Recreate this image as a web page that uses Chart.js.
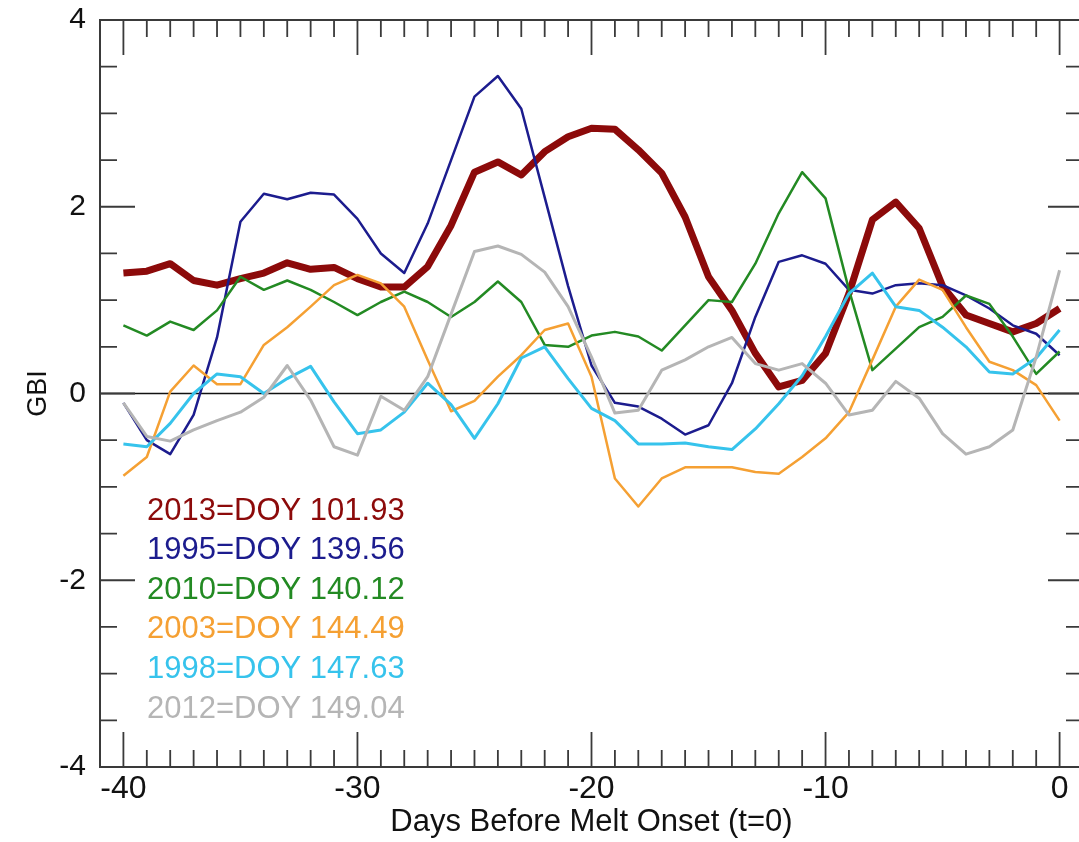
<!DOCTYPE html>
<html>
<head>
<meta charset="utf-8">
<script src="https://cdn.jsdelivr.net/npm/chart.js@4.4.1/dist/chart.umd.min.js"></script>
<style>
    html, body { margin: 0; padding: 0; background: #fff; overflow: hidden; }
    #gbiChart { display: block; }
</style>
</head>
<body>
<canvas id="gbiChart" width="1100" height="842"></canvas>
<script>
// days before melt onset
var days = [-40, -39, -38, -37, -36, -35, -34, -33, -32, -31, -30, -29, -28, -27, -26, -25, -24, -23, -22, -21,
    -20, -19, -18, -17, -16, -15, -14, -13, -12, -11, -10, -9, -8, -7, -6, -5, -4, -3, -2, -1, 0];

var gbi2013 = [1.29, 1.31, 1.39, 1.21, 1.16, 1.23, 1.29, 1.40, 1.33, 1.35, 1.23, 1.14, 1.14, 1.36, 1.80, 2.37, 2.48, 2.34, 2.59, 2.75,
    2.84, 2.83, 2.61, 2.36, 1.89, 1.25, 0.89, 0.43, 0.07, 0.14, 0.43, 1.07, 1.86, 2.05, 1.77, 1.15, 0.84, 0.75, 0.66, 0.75, 0.91];
var gbi1995 = [-0.10, -0.50, -0.65, -0.23, 0.60, 1.84, 2.14, 2.08, 2.15, 2.13, 1.87, 1.50, 1.29, 1.82, 2.50, 3.18, 3.40, 3.05, 2.10, 1.15,
    0.30, -0.10, -0.14, -0.27, -0.44, -0.34, 0.11, 0.82, 1.41, 1.48, 1.39, 1.11, 1.07, 1.16, 1.18, 1.16, 1.05, 0.91, 0.73, 0.64, 0.41];
var gbi2010 = [0.73, 0.62, 0.77, 0.68, 0.89, 1.25, 1.11, 1.21, 1.11, 0.98, 0.84, 0.98, 1.09, 0.98, 0.82, 0.98, 1.20, 0.98, 0.52, 0.50,
    0.62, 0.66, 0.61, 0.46, 0.73, 1.00, 0.98, 1.39, 1.93, 2.37, 2.09, 1.11, 0.25, 0.48, 0.71, 0.82, 1.05, 0.96, 0.61, 0.21, 0.45];
var gbi2003 = [-0.88, -0.68, 0.02, 0.30, 0.10, 0.10, 0.52, 0.71, 0.93, 1.16, 1.27, 1.18, 0.93, 0.36, -0.19, -0.08, 0.18, 0.41, 0.68, 0.75,
    0.18, -0.91, -1.21, -0.91, -0.79, -0.79, -0.79, -0.84, -0.86, -0.68, -0.48, -0.20, 0.36, 0.93, 1.22, 1.11, 0.71, 0.34, 0.25, 0.09, -0.29];
var gbi1998 = [-0.54, -0.57, -0.32, 0.00, 0.21, 0.18, 0.00, 0.16, 0.29, -0.09, -0.43, -0.39, -0.20, 0.11, -0.12, -0.48, -0.11, 0.38, 0.50, 0.16,
    -0.16, -0.29, -0.54, -0.54, -0.53, -0.57, -0.60, -0.38, -0.11, 0.19, 0.61, 1.07, 1.29, 0.93, 0.89, 0.71, 0.50, 0.23, 0.21, 0.38, 0.68];
var gbi2012 = [-0.10, -0.46, -0.51, -0.39, -0.29, -0.20, -0.04, 0.30, -0.07, -0.57, -0.66, -0.03, -0.18, 0.18, 0.85, 1.52, 1.58, 1.49, 1.30, 0.93,
    0.39, -0.21, -0.18, 0.25, 0.36, 0.50, 0.60, 0.32, 0.25, 0.32, 0.11, -0.23, -0.18, 0.13, -0.05, -0.43, -0.65, -0.57, -0.39, 0.39, 1.32];

var seriesLabels = ['2013=DOY 101.93', '1995=DOY 139.56', '2010=DOY 140.12', '2003=DOY 144.49', '1998=DOY 147.63', '2012=DOY 149.04'];
var seriesColors = ['#8c0a0a', '#1c1c8e', '#238a23', '#f5a033', '#36c3ec', '#b5b5b5'];
var seriesWidths = [7, 2.5, 2.5, 2.5, 3, 3];
var allSeries = [gbi2013, gbi1995, gbi2010, gbi2003, gbi1998, gbi2012];

var xTickLabels = [-40, -30, -20, -10, 0];
var yTickLabels = [-4, -2, 0, 2, 4];

var fontName = '"Liberation Sans", Arial, Helvetica, sans-serif';
var axisInk = '#3a3a3a';

function toPoints(vals) {
    return days.map(function (d, i) {
        return { x: d, y: vals[i] };
    });
}

var datasets = allSeries.map(function (vals, i) {
    return {
        label: seriesLabels[i],
        data: toPoints(vals),
        borderColor: seriesColors[i],
        backgroundColor: seriesColors[i],
        borderWidth: seriesWidths[i],
        pointRadius: 0,
        tension: 0,
        fill: false,
        borderJoinStyle: 'round',
        order: allSeries.length - i
    };
});

// frame, inward tick marks, zero line and the in-plot legend
var framePlugin = {
    id: 'framePlugin',
    beforeDatasetsDraw: function (chart) {
        var ctx = chart.ctx;
        var area = chart.chartArea;
        var y0 = chart.scales.y.getPixelForValue(0);
        ctx.save();
        ctx.strokeStyle = '#111';
        ctx.lineWidth = 1.6;
        ctx.beginPath();
        ctx.moveTo(area.left, y0);
        ctx.lineTo(area.right, y0);
        ctx.stroke();
        ctx.restore();
    },
    afterDraw: function (chart) {
        var ctx = chart.ctx;
        var area = chart.chartArea;
        var xs = chart.scales.x;
        var ys = chart.scales.y;
        ctx.save();
        ctx.strokeStyle = axisInk;
        ctx.lineWidth = 2;
        ctx.strokeRect(area.left, area.top, area.right - area.left, area.bottom - area.top);

        ctx.lineWidth = 1.8;
        ctx.beginPath();
        xs.ticks.forEach(function (t) {
            var px = xs.getPixelForValue(t.value);
            if (px <= area.left + 1 || px >= area.right - 1) return;
            var len = xTickLabels.indexOf(t.value) >= 0 ? 35 : 17;
            ctx.moveTo(px, area.bottom);
            ctx.lineTo(px, area.bottom - len);
            ctx.moveTo(px, area.top);
            ctx.lineTo(px, area.top + len);
        });
        ys.ticks.forEach(function (t) {
            var py = ys.getPixelForValue(t.value);
            if (py <= area.top + 1 || py >= area.bottom - 1) return;
            var len = yTickLabels.indexOf(t.value) >= 0 ? 35 : 17;
            ctx.moveTo(area.left, py);
            ctx.lineTo(area.left + len, py);
            ctx.moveTo(area.right, py);
            ctx.lineTo(area.right - len, py);
        });
        ctx.stroke();

        ctx.font = '31px ' + fontName;
        ctx.textAlign = 'left';
        ctx.textBaseline = 'middle';
        chart.data.datasets.forEach(function (ds, i) {
            ctx.fillStyle = ds.borderColor;
            ctx.fillText(ds.label, 147, 511 + i * 39.6);
        });
        ctx.restore();
    }
};

var gbiCanvas = document.getElementById('gbiChart');
var gbiChart = new Chart(gbiCanvas, {
    type: 'line',
    data: { datasets: datasets },
    options: {
        responsive: false,
        animation: false,
        layout: { padding: { top: 20, right: 17, bottom: 0, left: 0 } },
        plugins: {
            legend: { display: false },
            tooltip: { enabled: false }
        },
        scales: {
            x: {
                type: 'linear',
                min: -41,
                max: 1,
                grid: { display: false, drawTicks: false },
                border: { display: false },
                afterFit: function (scale) {
                    scale.height = 75;
                    scale.paddingLeft = 0;
                    scale.paddingRight = 0;
                },
                ticks: {
                    stepSize: 1,
                    autoSkip: false,
                    maxRotation: 0,
                    padding: 3,
                    color: '#111',
                    font: { family: fontName, size: 32 },
                    callback: function (v) {
                        return xTickLabels.indexOf(v) >= 0 ? String(v) : '';
                    }
                },
                title: {
                    display: true,
                    text: 'Days Before Melt Onset (t=0)',
                    color: '#111',
                    font: { family: fontName, size: 31 },
                    padding: { top: 0, bottom: 1 }
                }
            },
            y: {
                type: 'linear',
                min: -4,
                max: 4,
                grid: { display: false, drawTicks: false },
                border: { display: false },
                afterFit: function (scale) {
                    scale.width = 100;
                    scale.paddingTop = 0;
                    scale.paddingBottom = 0;
                },
                ticks: {
                    stepSize: 0.5,
                    autoSkip: false,
                    padding: 14,
                    color: '#111',
                    font: { family: fontName, size: 30 },
                    callback: function (v) {
                        return yTickLabels.indexOf(v) >= 0 ? String(v) : '';
                    }
                },
                title: {
                    display: true,
                    text: 'GBI',
                    color: '#111',
                    font: { family: fontName, size: 27 },
                    padding: { top: 22, bottom: 0 }
                }
            }
        }
    },
    plugins: [framePlugin]
});
</script>
</body>
</html>
